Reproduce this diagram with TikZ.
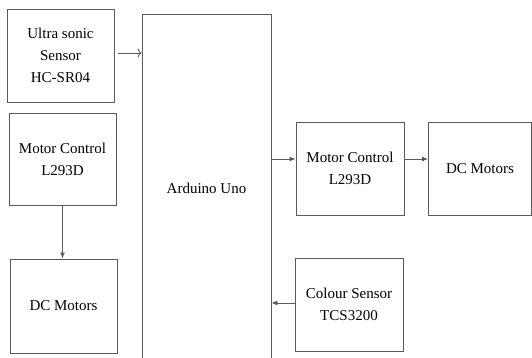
\documentclass[tikz,border=0pt]{standalone}
\usepackage{fontspec}
\setmainfont{Liberation Serif}
\usetikzlibrary{arrows.meta}
\definecolor{edge}{HTML}{5A5A5A}
\tikzset{
  blk/.style={draw=edge, line width=0.9pt, inner sep=0pt, align=center, text=black,
    font=\fontsize{15}{22}\selectfont},
  conn/.style={draw=edge, line width=0.9pt, -{Latex[length=6pt,width=5pt]}},
  openconn/.style={draw=edge, line width=0.9pt, -{To[length=4pt,width=9pt]}},
}
\begin{document}
\begin{tikzpicture}[x=1pt,y=-1pt]
\useasboundingbox (0,0) rectangle (532,358);
\clip (0,0) rectangle (532,358);
\node[blk, minimum width=107pt, minimum height=93pt] (us) at (60.5,55.5) {Ultra sonic\\Sensor\\HC-SR04};
\node[blk, minimum width=107pt, minimum height=92pt] (mcl) at (62.5,159) {Motor Control\\L293D};
\node[blk, minimum width=107pt, minimum height=94pt] (dcl) at (63.5,306) {DC Motors};
\node[blk, minimum width=129pt, minimum height=360pt] (ard) at (206.5,194) {};
\node[font=\fontsize{15}{22}\selectfont] (ardt) at (206.5,188) {Arduino Uno};
\node[blk, minimum width=108pt, minimum height=93pt] (mcr) at (350,168.5) {Motor Control\\L293D};
\node[blk, minimum width=103pt, minimum height=93pt] (dcr) at (480,168.5) {DC Motors};
\node[blk, minimum width=108pt, minimum height=93pt] (cs) at (349,304.5) {Colour Sensor\\TCS3200};
\coordinate (usout) at (118,53);
\draw[openconn] (usout) -- (ard.west |- usout);
\draw[conn] (mcl.south) -- (mcl.south |- dcl.north);
\coordinate (ry) at (0,159);
\draw[conn] (ard.east |- ry) -- (mcr.west |- ry);
\draw[conn] (mcr.east |- ry) -- (dcr.west |- ry);
\coordinate (cy) at (0,303);
\draw[conn] (cs.west |- cy) -- (ard.east |- cy);
\end{tikzpicture}
\end{document}
